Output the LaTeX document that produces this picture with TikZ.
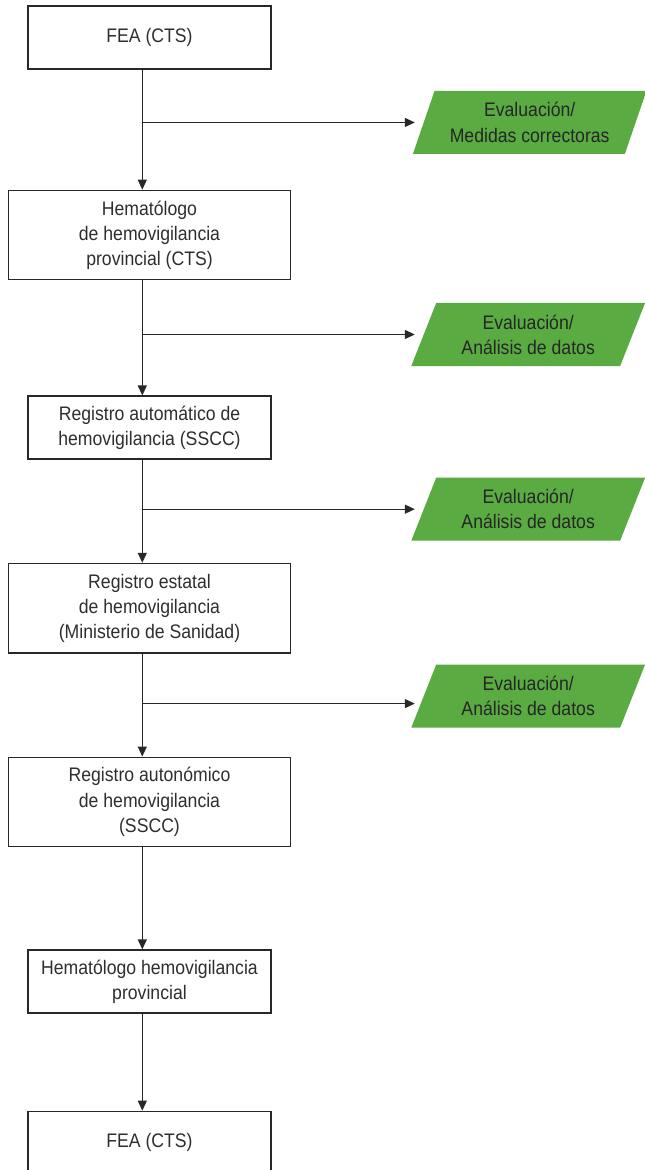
\documentclass[tikz,border=0pt]{standalone}
\usepackage{fontspec}
\setmainfont{Liberation Sans}[FakeStretch=0.9]
\usetikzlibrary{arrows.meta, positioning, shapes.geometric}

\definecolor{evalgreen}{RGB}{89,171,66}
\definecolor{linegray}{RGB}{40,40,40}

\begin{document}
\begin{tikzpicture}[
  font=\fontsize{9.8}{12.6}\selectfont,
  box/.style={draw=linegray, line width=0.65pt, text=black!82, align=center, minimum width=121.5pt, minimum height=31.5pt, inner sep=2pt},
  widebox/.style={box, minimum width=141pt, minimum height=44.75pt},
  evalbox/.style={trapezium, trapezium left angle=67, trapezium right angle=113, trapezium stretches=true, fill=evalgreen, text=black!85, align=center, minimum width=117.5pt, minimum height=31.5pt, inner sep=1pt},
  >={Triangle[length=5pt, width=4.5pt]}
]

  \def\lineoffset{3.6pt}
  \def\tipgap{4.25pt}

  \path[use as bounding box] (-74.75pt,18.75pt) rectangle (247.25pt,-566.25pt);

  \node (fea) [box] at (0,0) {FEA (CTS)};
  \node (hemprov) [widebox, below=60pt of fea] {Hematólogo\\de hemovigilancia\\provincial (CTS)};
  \node (regauto) [box, below=57.5pt of hemprov] {Registro automático de\\hemovigilancia (SSCC)};
  \node (regestatal) [widebox, below=51.5pt of regauto] {Registro estatal\\de hemovigilancia\\(Ministerio de Sanidad)};
  \node (regauton) [widebox, below=51.5pt of regestatal] {Registro autonómico\\de hemovigilancia\\(SSCC)};
  \node (hemhemo) [box, below=51pt of regauton] {Hematólogo hemovigilancia\\provincial};
  \node (feaend) [box, below=48.5pt of hemhemo] {FEA (CTS)};

  \draw[linegray, line width=0.65pt, ->] ([xshift=-\lineoffset]fea.south) -- ([xshift=-\lineoffset]hemprov.north) coordinate[pos=0.44] (split1);
  \draw[linegray, line width=0.65pt, ->] ([xshift=-\lineoffset]hemprov.south) -- ([xshift=-\lineoffset]regauto.north) coordinate[pos=0.47] (split2);
  \draw[linegray, line width=0.65pt, ->] ([xshift=-\lineoffset]regauto.south) -- ([xshift=-\lineoffset]regestatal.north) coordinate[pos=0.48] (split3);
  \draw[linegray, line width=0.65pt, ->] ([xshift=-\lineoffset]regestatal.south) -- ([xshift=-\lineoffset]regauton.north) coordinate[pos=0.486] (split4);
  \draw[linegray, line width=0.65pt, ->] ([xshift=-\lineoffset]regauton.south) -- ([xshift=-\lineoffset]hemhemo.north);
  \draw[linegray, line width=0.65pt, ->] ([xshift=-\lineoffset]hemhemo.south) -- ([xshift=-\lineoffset]feaend.north);

  \node (eval1) [evalbox, right=140.5pt of split1] {Evaluación/\\Medidas correctoras};
  \node (eval2) [evalbox, right=140.5pt of split2] {Evaluación/\\Análisis de datos};
  \node (eval3) [evalbox, right=140.5pt of split3] {Evaluación/\\Análisis de datos};
  \node (eval4) [evalbox, right=140.5pt of split4, yshift=3.75pt] {Evaluación/\\Análisis de datos};

  \draw[linegray, line width=0.65pt, ->] (split1) -- ([xshift=-\tipgap]eval1.west);
  \draw[linegray, line width=0.65pt, ->] (split2) -- ([xshift=-\tipgap]eval2.west);
  \draw[linegray, line width=0.65pt, ->] (split3) -- ([xshift=-\tipgap]eval3.west);
  \draw[linegray, line width=0.65pt, ->] (split4) -- ([xshift=-\tipgap, yshift=-3.75pt]eval4.west);

\end{tikzpicture}
\end{document}
